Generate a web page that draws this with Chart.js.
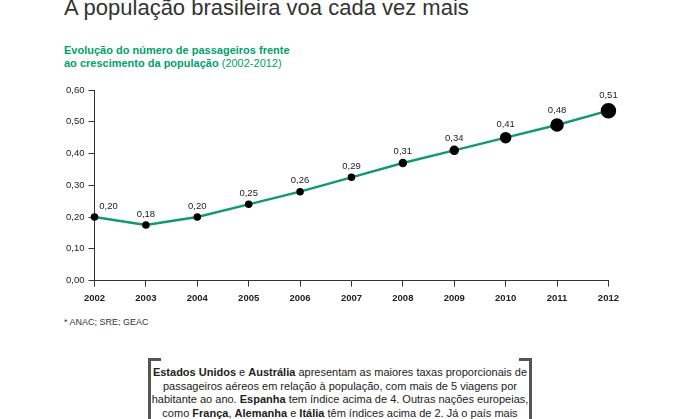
<!DOCTYPE html>
<html><head><meta charset="utf-8">
<script src="https://cdn.jsdelivr.net/npm/chart.js@4"></script>
<style>
body{margin:0;width:680px;height:419px;background:#fff;font-family:"Liberation Sans",Arial,sans-serif;overflow:hidden;position:relative}
#title{position:absolute;left:64px;top:-5px;font-size:22px;color:#333}
#sub{position:absolute;left:64px;top:44px;font-size:11px;font-weight:bold;color:#00a06a;line-height:13px}
#sub span{font-weight:normal}
#wrap{position:absolute;left:62px;top:78px;width:563px;height:232px}
#src{position:absolute;left:64px;top:317px;font-size:9px;color:#333}
#box{position:absolute;left:148px;top:358px;width:378px;height:80px;border:3px solid #555;border-bottom:none}
#box:before{content:"";position:absolute;left:10px;right:10px;top:-3px;height:3px;background:#fff}
#box p{margin:5px 0 0;font-size:11px;line-height:13.5px;text-align:center;color:#222}
</style></head><body>
<div id="title">A população brasileira voa cada vez mais</div>
<div id="sub">Evolução do número de passageiros frente<br>ao crescimento da população <span>(2002-2012)</span></div>
<div id="wrap"><canvas id="c"></canvas></div>
<div id="src">* ANAC; SRE; GEAC</div>
<div id="box"><p><b>Estados Unidos</b> e <b>Austrália</b> apresentam as maiores taxas proporcionais de passageiros aéreos em relação à população, com mais de 5 viagens por habitante ao ano. <b>Espanha</b> tem índice acima de 4. Outras nações europeias, como <b>França</b>, <b>Alemanha</b> e <b>Itália</b> têm índices acima de 2. Já o país mais</p></div>
<script>
const years = ['2002','2003','2004','2005','2006','2007','2008','2009','2010','2011','2012'];
const values = [0.20, 0.175, 0.20, 0.24, 0.28, 0.325, 0.37, 0.41, 0.45, 0.49, 0.535];
const labels = ['0,20','0,18','0,20','0,25','0,26','0,29','0,31','0,34','0,41','0,48','0,51'];
const radii = [2.5, 2.5, 2.5, 2.5, 2.5, 2.5, 3, 3.5, 4.5, 5.5, 6.5];
const yTicks = [0, 0.1, 0.2, 0.3, 0.4, 0.5, 0.6];

const labelPlugin = {
  id: 'lbl',
  afterDatasetsDraw(chart) {
    const ctx = chart.ctx;
    const meta = chart.getDatasetMeta(0);
    ctx.save();
    ctx.font = '9.5px "Liberation Sans", Arial';
    ctx.fillStyle = '#222';
    ctx.textAlign = 'center';
    meta.data.forEach((p, i) => {
      const dx = i === 0 ? 14 : 0;
      ctx.fillText(labels[i], p.x + dx, p.y - radii[i] - 6);
    });
    ctx.restore();
  }
};

new Chart(document.getElementById('c'), {
  type: 'line',
  data: {
    labels: years,
    datasets: [{
      data: values,
      borderColor: '#119a6a',
      borderWidth: 2.5,
      pointBackgroundColor: '#000',
      pointBorderColor: '#000',
      pointRadius: radii,
      tension: 0,
      clip: false
    }]
  },
  options: {
    responsive: true, maintainAspectRatio: false, animation: false,
    layout: { padding: { left: 0, right: 14, top: 12 } },
    plugins: { legend: { display: false }, tooltip: { enabled: false } },
    scales: {
      x: {
        offset: false,
        grid: { display: true, drawOnChartArea: false, tickLength: 6, color: '#333', offset: false },
        border: { color: '#333' },
        ticks: { color: '#222', font: { size: 9.5, weight: 'bold' }, padding: 6 }
      },
      y: {
        min: 0, max: 0.6,
        afterBuildTicks: a => { a.ticks = yTicks.map(v => ({ value: v })); },
        grid: { drawOnChartArea: false, tickLength: 6, color: '#333' },
        border: { color: '#333' },
        ticks: { color: '#222', font: { size: 9.5 }, padding: 4, callback: v => v.toFixed(2).replace('.', ',') }
      }
    }
  },
  plugins: [labelPlugin]
});
</script>
</body></html>
